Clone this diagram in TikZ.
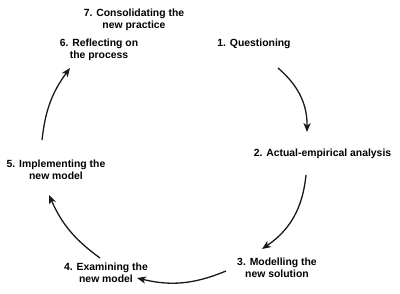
\documentclass[tikz,border=0pt]{standalone}
\usepackage{fontspec}
\setmainfont{Liberation Sans}
\usetikzlibrary{arrows.meta,positioning}
\tikzset{
  >={Stealth[length=3.1mm,width=2.5mm,inset=0.8mm]},
  phase/.style={font=\bfseries\fontsize{10.4}{12.5}\selectfont,align=center,
    inner sep=0pt},
  cyc/.style={->,line width=1.3pt,black!90,bend left=#1},
  cyc/.default=25,
}
\begin{document}
\begin{tikzpicture}[x=1pt,y=-1pt]
  \useasboundingbox (0,0) rectangle (400,293);
  % the seven phases
  \node[phase] (p1) at (254,44) {1. Questioning};
  \node[phase] (p2) at (322.5,154) {2. Actual-empirical analysis};
  \node[phase] (p3) at (277,268) {3. Modelling the\\ new solution};
  \node[phase] (p4) at (106,273) {4. Examining the\\ new model};
  \node[phase] (p5) at (56,170) {5. Implementing the\\ new model};
  \node[phase] (p6) at (99,50) {6. Reflecting on\\ the process};
  \node[phase] (p7) at (134,20) {7. Consolidating the\\ new practice};
  % arrow ends
  \coordinate (a1s) at (278,68);  \coordinate (a1e) at (307,132);
  \coordinate (a2s) at (306,175); \coordinate (a2e) at (262,249);
  \coordinate (a3s) at (226,271); \coordinate (a3e) at (137,278);
  \coordinate (a4s) at (100,258); \coordinate (a4e) at (49,195);
  \coordinate (a5s) at (42,140);  \coordinate (a5e) at (70,68);
  \draw[cyc] (a1s) to (a1e);
  \draw[cyc] (a2s) to (a2e);
  \draw[cyc=18] (a3s) to (a3e);
  \draw[cyc=15] (a4s) to (a4e);
  \draw[cyc=15] (a5s) to (a5e);
\end{tikzpicture}
\end{document}
